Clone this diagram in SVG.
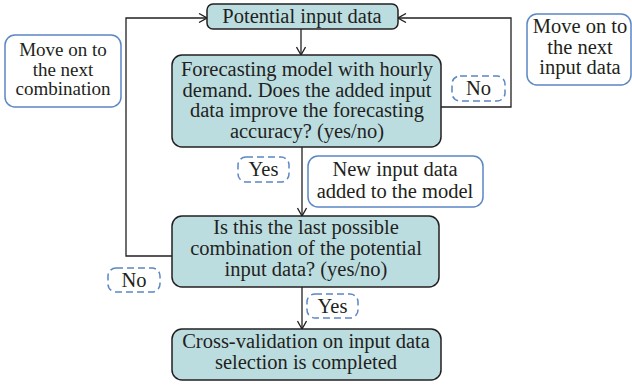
<svg xmlns="http://www.w3.org/2000/svg" width="632" height="385" viewBox="0 0 632 385">
<defs>
<style>
.node{fill:#bcdde0;stroke:#231f20;stroke-width:1.5}
.note{fill:#fff;stroke:#5b87c4;stroke-width:1.5}
.lbl{fill:#fff;stroke:#5b87c4;stroke-width:1.5;stroke-dasharray:7 4}
.t{font-family:'Liberation Serif','DejaVu Serif',serif;font-size:20.5px;fill:#231f20;text-anchor:middle}
.s{font-size:19px}
.conn{fill:none;stroke:#231f20;stroke-width:1.3}
</style>
<marker id="arr" viewBox="0 0 10 10" refX="9" refY="5" markerWidth="10" markerHeight="10" markerUnits="userSpaceOnUse" orient="auto">
<path d="M1,0.5 L9,5 L1,9.5" fill="none" stroke="#231f20" stroke-width="1.3"/>
</marker>
</defs>
<rect width="632" height="385" fill="#fff"/>
<g id="connectors">
<path class="conn" d="M301,29 V55" marker-end="url(#arr)"/>
<path class="conn" d="M441,107 H511 V18 H398" marker-end="url(#arr)"/>
<path class="conn" d="M172,256 H126 V18 H207" marker-end="url(#arr)"/>
<path class="conn" d="M302,147 V216" marker-end="url(#arr)"/>
<path class="conn" d="M302,287 V329" marker-end="url(#arr)"/>
</g>
<g id="potential">
<rect class="node" x="207" y="4" width="191" height="25" rx="6"/>
<text class="t" x="302" y="22.5">Potential input data</text>
</g>
<g id="forecast">
<rect class="node" x="172" y="55" width="269" height="92" rx="10"/>
<text class="t" x="307" y="76">Forecasting model with hourly</text>
<text class="t" x="307" y="96.5">demand. Does the added input</text>
<text class="t" x="307" y="117">data improve the forecasting</text>
<text class="t" x="307" y="137.5">accuracy? (yes/no)</text>
</g>
<g id="last">
<rect class="node" x="172" y="216" width="267" height="71" rx="10"/>
<text class="t" x="306" y="234">Is this the last possible</text>
<text class="t" x="306" y="255">combination of the potential</text>
<text class="t" x="306" y="276">input data? (yes/no)</text>
</g>
<g id="done">
<rect class="node" x="172" y="329" width="269" height="51" rx="10"/>
<text class="t" x="306" y="348">Cross-validation on input data</text>
<text class="t" x="306" y="369">selection is completed</text>
</g>
<g id="note-combination">
<rect class="note" x="5" y="35" width="116" height="72" rx="10"/>
<text class="t s" x="63" y="56">Move on to</text>
<text class="t s" x="63" y="75.5">the next</text>
<text class="t s" x="63" y="95">combination</text>
</g>
<g id="note-input">
<rect class="note" x="527" y="14" width="104" height="71" rx="10"/>
<text class="t" x="580" y="33">Move on to</text>
<text class="t" x="580" y="53.5">the next</text>
<text class="t" x="580" y="74">input data</text>
</g>
<g id="note-added">
<rect class="note" x="308" y="156" width="175" height="51" rx="10"/>
<text class="t" x="395" y="175.5">New input data</text>
<text class="t" x="395" y="197.5">added to the model</text>
</g>
<g id="label-no-right">
<rect class="lbl" x="452" y="76" width="53" height="25" rx="8"/>
<text class="t" x="478.5" y="95">No</text>
</g>
<g id="label-yes-upper">
<rect class="lbl" x="238" y="157" width="51" height="25" rx="8"/>
<text class="t" x="263.5" y="176">Yes</text>
</g>
<g id="label-no-left">
<rect class="lbl" x="108" y="268" width="52" height="24" rx="8"/>
<text class="t" x="134" y="287">No</text>
</g>
<g id="label-yes-lower">
<rect class="lbl" x="307" y="294" width="51" height="24" rx="8"/>
<text class="t" x="332.5" y="313">Yes</text>
</g>
</svg>
